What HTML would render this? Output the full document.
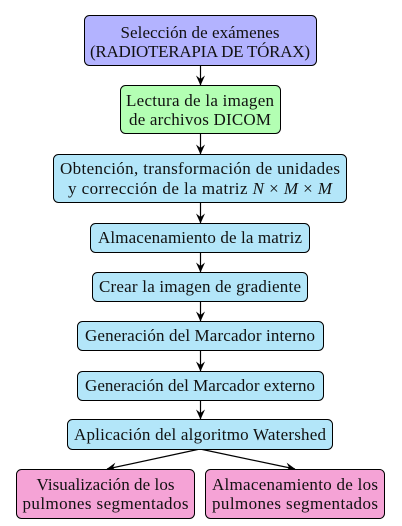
<!DOCTYPE html>
<html><head><meta charset="utf-8"><style>
html,body{margin:0;padding:0;background:#fff;}
svg{display:block;}
text{font-family:"Liberation Serif",serif;font-size:17px;fill:#111;text-anchor:middle;}
rect{stroke:#000;stroke-width:1;}
line{stroke:#000;stroke-width:1.2;}
</style></head><body>
<svg width="402" height="526" viewBox="0 0 402 526" xmlns="http://www.w3.org/2000/svg">
<defs>
<marker id="a" viewBox="0 0 10 10" refX="9.5" refY="5" markerWidth="10" markerHeight="10" orient="auto" markerUnits="userSpaceOnUse">
<path d="M0,0.5 L10,5 L0,9.5 L3.5,5 Z" fill="#000"/>
</marker>
</defs>
<line x1="200.5" y1="65" x2="200.5" y2="85" marker-end="url(#a)"/>
<line x1="200.5" y1="134" x2="200.5" y2="154" marker-end="url(#a)"/>
<line x1="200.5" y1="203" x2="200.5" y2="223" marker-end="url(#a)"/>
<line x1="200.5" y1="252" x2="200.5" y2="272" marker-end="url(#a)"/>
<line x1="200.5" y1="301" x2="200.5" y2="321" marker-end="url(#a)"/>
<line x1="200.5" y1="350" x2="200.5" y2="371" marker-end="url(#a)"/>
<line x1="200.5" y1="400" x2="200.5" y2="419" marker-end="url(#a)"/>
<line x1="200" y1="449" x2="107" y2="469" marker-end="url(#a)"/>
<line x1="200" y1="449" x2="295" y2="469" marker-end="url(#a)"/>

<rect x="84.5" y="15.5" width="232" height="50" rx="5" fill="#b3b3ff"/>
<text x="200" y="38" textLength="159">Selección de exámenes</text>
<text x="200" y="57" textLength="220">(RADIOTERAPIA DE TÓRAX)</text>

<rect x="120.5" y="85.5" width="160" height="48" rx="5" fill="#b3ffb3"/>
<text x="200" y="106" textLength="148">Lectura de la imagen</text>
<text x="200" y="125" textLength="142">de archivos DICOM</text>

<rect x="53.5" y="154.5" width="293" height="48" rx="5" fill="#b3e6f9"/>
<text x="200" y="174" textLength="280">Obtención, transformación de unidades</text>
<text x="200" y="194" textLength="264">y corrección de la matriz <tspan font-style="italic">N</tspan> × <tspan font-style="italic">M</tspan> × <tspan font-style="italic">M</tspan></text>

<rect x="90.5" y="223.5" width="219" height="29" rx="5" fill="#b3e6f9"/>
<text x="200" y="243" textLength="204">Almacenamiento de la matriz</text>

<rect x="92.5" y="272.5" width="215" height="29" rx="5" fill="#b3e6f9"/>
<text x="200" y="292" textLength="202">Crear la imagen de gradiente</text>

<rect x="77.5" y="321.5" width="246" height="29" rx="5" fill="#b3e6f9"/>
<text x="200" y="341" textLength="230">Generación del Marcador interno</text>

<rect x="77.5" y="371.5" width="246" height="29" rx="5" fill="#b3e6f9"/>
<text x="200" y="391" textLength="230">Generación del Marcador externo</text>

<rect x="67.5" y="419.5" width="265" height="30" rx="5" fill="#b3e6f9"/>
<text x="200" y="440" textLength="252">Aplicación del algoritmo Watershed</text>

<rect x="16.5" y="469.5" width="178" height="49" rx="5" fill="#f5a3d6"/>
<text x="105.5" y="490" textLength="138">Visualización de los</text>
<text x="105.5" y="509" textLength="166">pulmones segmentados</text>

<rect x="205.5" y="469.5" width="179" height="49" rx="5" fill="#f5a3d6"/>
<text x="295" y="490" textLength="166">Almacenamiento de los</text>
<text x="295" y="509" textLength="166">pulmones segmentados</text>
</svg>
</body></html>
